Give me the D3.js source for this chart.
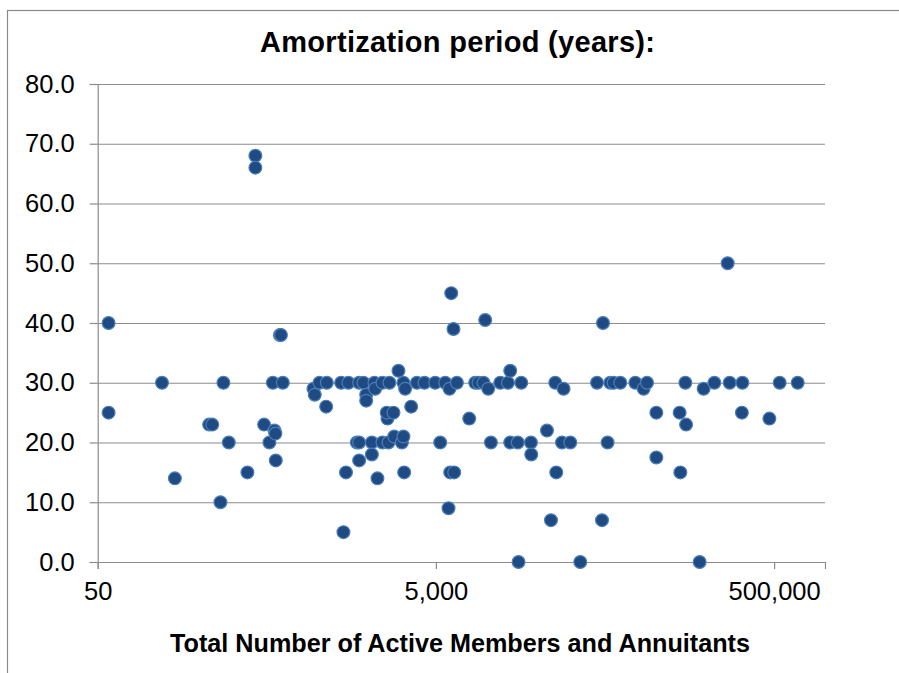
<!DOCTYPE html>
<html>
<head>
<meta charset="utf-8">
<script src="https://cdnjs.cloudflare.com/ajax/libs/d3/7.8.5/d3.min.js"></script>
<style>
  body { margin: 0; background: #fff; }
  text { font-family: "Liberation Sans", Arial, sans-serif; }
</style>
</head>
<body>
<script>
// data: total active members + annuitants, amortization years
var members = [
  58, 58, 120, 143, 228, 238, 266, 277, 298, 384,
  428, 428, 482, 518, 543, 555, 562, 565, 598, 606,
  622, 944, 961, 1024, 1132, 1122, 1376, 1420, 1470, 1520,
  1704, 1758, 1758, 1758, 1864, 1935, 1935, 2091, 2091, 2166,
  2187, 2256, 2415, 2415, 2586, 2560, 2621, 2656, 2806, 2834,
  3003, 3146, 3215, 3215, 3246, 3290, 3571, 3861, 4280, 4953,
  5302, 5676, 5938, 6018, 6161, 6076, 6416, 6353, 6657, 7870,
  8540, 8931, 9562, 9786, 10196, 10576, 12012, 13336, 13758, 13758,
  15241, 15409, 15986, 18239, 18318, 22690, 23958, 25399, 25748, 27834,
  28445, 31166, 35711, 44851, 48005, 48662, 51800, 53756, 56229, 61585,
  75555, 84592, 88632, 100600, 100600, 138150, 139500, 149350, 150800, 181450,
  191600, 221700, 265750, 273150, 322450, 324650, 469000, 539600, 689650
];
var amortYears = [
  40, 25, 30, 14, 23, 23, 10, 30, 20, 15,
  68, 66, 23, 20, 30, 22, 21.5, 17, 38, 38,
  30, 29, 28, 30, 30, 26, 30, 5, 15, 30,
  20, 20, 30, 17, 30, 28, 27, 20, 18, 30,
  29, 14, 30, 20, 24, 25, 20, 30, 25, 21,
  32, 20, 30, 21, 15, 29, 26, 30, 30, 30,
  20, 30, 9, 29, 45, 15, 15, 39, 30, 24,
  30, 30, 30, 40.5, 29, 20, 30, 30, 32, 20,
  20, 0, 30, 20, 18, 22, 7, 30, 15, 20,
  29, 20, 0, 30, 7, 40, 20, 30, 30, 30,
  30, 29, 30, 25, 17.5, 25, 15, 30, 23, 0,
  29, 30, 50, 30, 25, 30, 24, 30, 30
];

var xTicks = [50, 5000, 500000];
var yTicks = [0, 10, 20, 30, 40, 50, 60, 70, 80];

var chartTitle = "Amortization period (years):";
var xTitle = "Total Number of Active Members and Annuitants";

var svgWidth = 899;
var svgHeight = 673;

var margin = { top: 84, right: 74, bottom: 111, left: 97.7 };
var chartWidth = svgWidth - margin.left - margin.right;
var chartHeight = svgHeight - margin.top - margin.bottom;

var svg = d3.select("body")
  .append("svg")
  .attr("width", svgWidth)
  .attr("height", svgHeight);

// chart frame (runs off the right / bottom of the picture)
svg.append("rect")
  .attr("x", 7.5)
  .attr("y", 10.5)
  .attr("width", 1000)
  .attr("height", 800)
  .attr("fill", "#fff")
  .attr("stroke", "#8a8a8a")
  .attr("stroke-width", 1.2);

var chartGroup = svg.append("g")
  .attr("transform", `translate(${margin.left}, ${margin.top})`);

// scales
var xLogScale = d3.scaleLog()
  .domain([50, 1000000])
  .range([0, chartWidth]);

var yLinearScale = d3.scaleLinear()
  .domain([0, 80])
  .range([chartHeight, 0]);

// gridlines
chartGroup.append("g")
  .attr("class", "grid")
  .call(d3.axisLeft(yLinearScale).tickValues(yTicks).tickSize(-chartWidth).tickFormat(""))
  .call(g => g.select(".domain").remove())
  .call(g => g.selectAll("line").attr("stroke", "#8c8c8c").attr("stroke-width", 1.2));

// axes
var yAxis = d3.axisLeft(yLinearScale)
  .tickValues(yTicks)
  .tickSize(8)
  .tickPadding(15)
  .tickFormat(d3.format(".1f"));

var xAxis = d3.axisBottom(xLogScale)
  .tickValues(xTicks)
  .tickSize(7)
  .tickPadding(13)
  .tickFormat(d3.format(","));

chartGroup.append("g")
  .call(yAxis)
  .call(g => g.select(".domain").attr("stroke", "#8c8c8c").attr("stroke-width", 1.2))
  .call(g => g.selectAll("line").attr("stroke", "#8c8c8c").attr("stroke-width", 1.2))
  .call(g => g.selectAll("text").attr("font-size", "25.5px").attr("fill", "#000")
    .style("font-family", "'Liberation Sans', Arial, sans-serif"));

chartGroup.append("g")
  .attr("transform", `translate(0, ${chartHeight})`)
  .call(xAxis)
  .call(g => g.select(".domain").attr("stroke", "#8c8c8c").attr("stroke-width", 1.2))
  .call(g => g.selectAll("line").attr("stroke", "#8c8c8c").attr("stroke-width", 1.2))
  .call(g => g.selectAll("text").attr("font-size", "25.5px").attr("fill", "#000")
    .style("font-family", "'Liberation Sans', Arial, sans-serif"));

// points
var points = members.map((m, i) => ({ members: m, years: amortYears[i] }));

chartGroup.selectAll("circle")
  .data(points)
  .enter()
  .append("circle")
  .attr("cx", d => xLogScale(d.members))
  .attr("cy", d => yLinearScale(d.years))
  .attr("r", 6.4)
  .attr("fill", "#1f4b82")
  .attr("stroke", "#4a7ebb")
  .attr("stroke-width", 1.2);

// titles
svg.append("text")
  .attr("x", 457.5)
  .attr("y", 52)
  .attr("text-anchor", "middle")
  .attr("font-size", "29px")
  .attr("font-weight", "bold")
  .attr("textLength", 395)
  .attr("lengthAdjust", "spacing")
  .attr("fill", "#000")
  .text(chartTitle);

svg.append("text")
  .attr("x", 460)
  .attr("y", 651.7)
  .attr("text-anchor", "middle")
  .attr("font-size", "25px")
  .attr("font-weight", "bold")
  .attr("textLength", 580)
  .attr("lengthAdjust", "spacingAndGlyphs")
  .attr("fill", "#000")
  .text(xTitle);
</script>
</body>
</html>
